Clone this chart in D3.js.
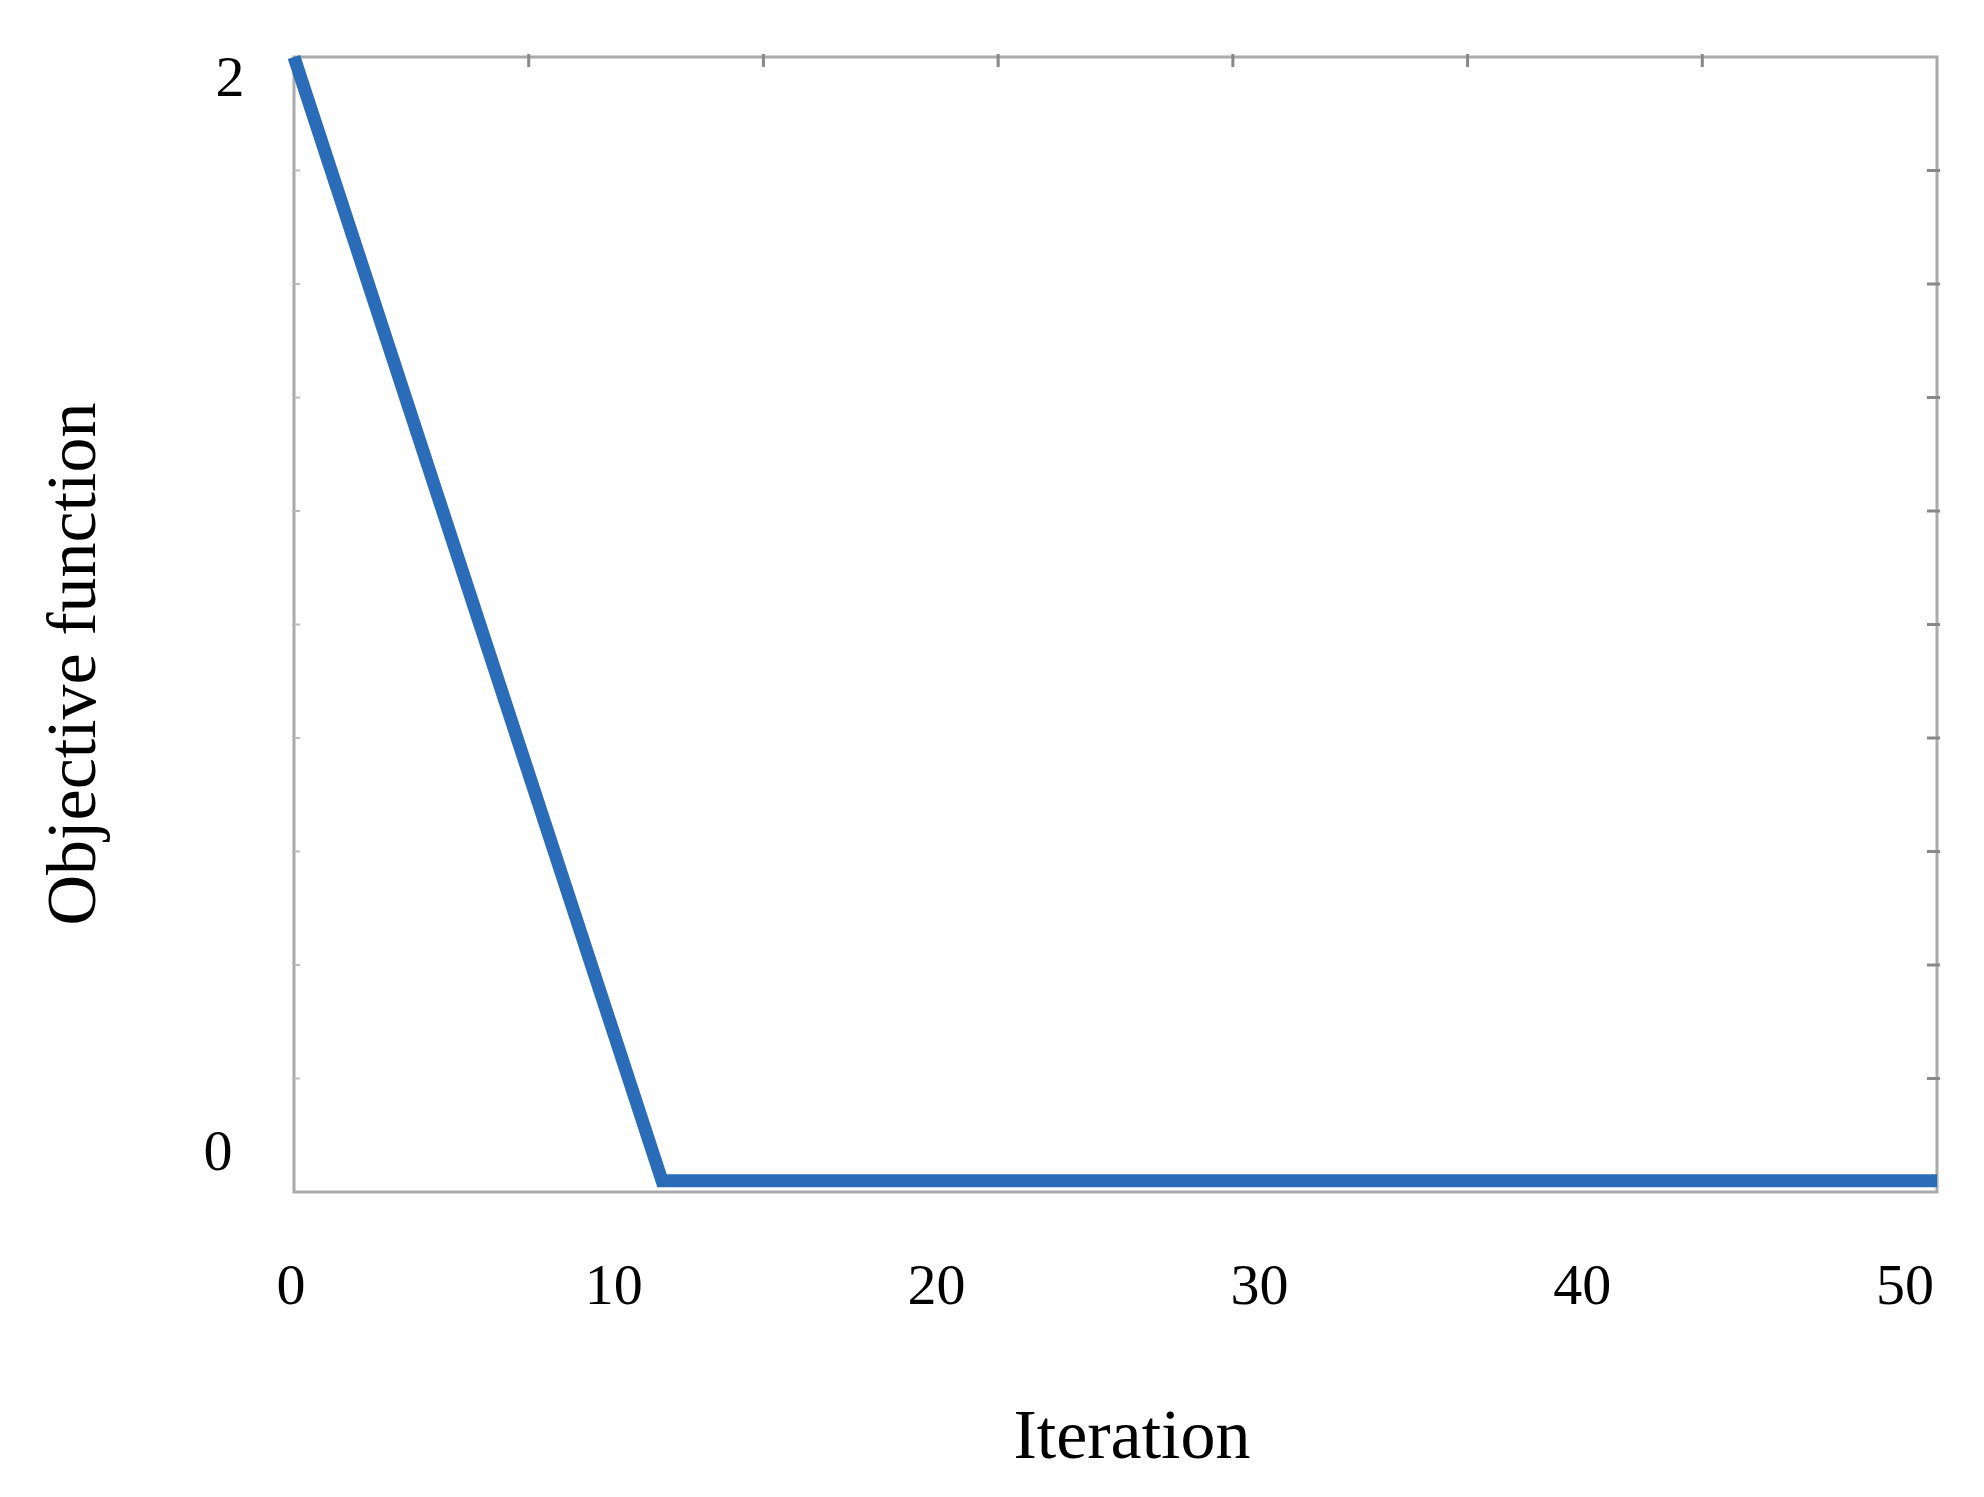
<!DOCTYPE html><html><head><meta charset="utf-8"><script src="https://cdn.jsdelivr.net/npm/d3@7"></script>
<style>body{margin:0;background:#fff}</style></head><body><svg id="c" width="1984" height="1497"></svg>
<script>
const iterations=[0,11.2,12,20,30,40,50];
const objective=[2,0.02,0.02,0.02,0.02,0.02,0.02];
const xTickLabels=[0,10,20,30,40,50];
const yTickLabels=[0,2];
const svg=d3.select("#c");
const L=294,R=1937,T=57,B=1192;
const x=d3.scaleLinear().domain([0,50]).range([L,R]);
const y=d3.scaleLinear().domain([0,2]).range([B,T]);
const xl=d3.scaleLinear().domain([0,50]).range([291,1905]);
const font="Liberation Serif, Times New Roman, serif";
svg.append("rect").attr("x",L).attr("y",T).attr("width",R-L).attr("height",B-T).attr("fill","none").attr("stroke","#aaa").attr("stroke-width",3);
const yt=d3.range(1,10).map(i=>i*0.2);
svg.append("g").selectAll("line").data(yt).join("line").attr("x1",R-10).attr("x2",R+3).attr("y1",d=>y(d)).attr("y2",d=>y(d)).attr("stroke","#888").attr("stroke-width",3);
svg.append("g").selectAll("line").data(yt).join("line").attr("x1",L).attr("x2",L+6).attr("y1",d=>y(d)).attr("y2",d=>y(d)).attr("stroke","#bbb").attr("stroke-width",2);
const xt=d3.range(1,7).map(i=>i*50/7);
svg.append("g").selectAll("line").data(xt).join("line").attr("x1",d=>x(d)).attr("x2",d=>x(d)).attr("y1",T-3).attr("y2",T+10).attr("stroke","#888").attr("stroke-width",3);
svg.append("g").selectAll("text").data(xTickLabels).join("text").attr("x",d=>xl(d)).attr("y",1304).attr("text-anchor","middle").attr("font-family",font).attr("font-size",58).text(d=>d);
svg.append("text").attr("x",230).attr("y",96).attr("text-anchor","middle").attr("font-family",font).attr("font-size",58).text(yTickLabels[1]);
svg.append("text").attr("x",218).attr("y",1170).attr("text-anchor","middle").attr("font-family",font).attr("font-size",58).text(yTickLabels[0]);
svg.append("text").attr("x",1132).attr("y",1458).attr("text-anchor","middle").attr("font-family",font).attr("font-size",70).text("Iteration");
svg.append("text").attr("transform","translate(95,664) rotate(-90)").attr("text-anchor","middle").attr("font-family",font).attr("font-size",70).text("Objective function");
svg.append("path").datum(iterations.map((d,i)=>[d,objective[i]])).attr("d",d3.line().x(d=>x(d[0])).y(d=>y(d[1]))).attr("fill","none").attr("stroke","#2b6cb8").attr("stroke-width",13);
</script></body></html>
